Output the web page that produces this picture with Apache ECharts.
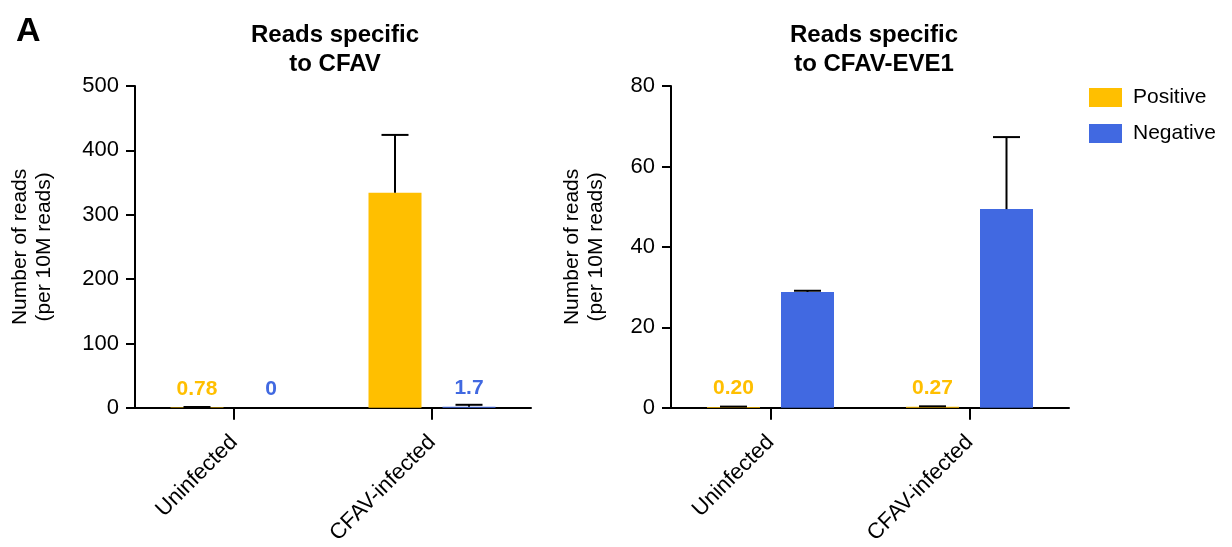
<!DOCTYPE html>
<html>
<head>
<meta charset="utf-8">
<script src="https://cdn.jsdelivr.net/npm/echarts@6/dist/echarts.min.js"></script>
<style>
html,body{margin:0;padding:0;background:#fff;}
#chart{width:1232px;height:547px;}
</style>
</head>
<body>
<div id="chart"></div>
<script>
const categories = ['Uninfected', 'CFAV-infected'];
const seriesNames = ['Positive', 'Negative'];

const cfavPositive = [0.78, 334];
const cfavPositiveErr = [0.5, 90];
const cfavPositiveLabels = ['0.78', ''];
const cfavNegative = [0, 1.7];
const cfavNegativeErr = [0, 3];
const cfavNegativeLabels = ['0', '1.7'];

const evePositive = [0.20, 0.27];
const evePositiveErr = [0.1, 0.1];
const evePositiveLabels = ['0.20', '0.27'];
const eveNegative = [28.8, 49.4];
const eveNegativeErr = [0.3, 17.9];
const eveNegativeLabels = ['', ''];

const cfavTicks = {min: 0, max: 500, interval: 100};
const eveTicks = {min: 0, max: 80, interval: 20};

const YELLOW = '#FFBF00';
const BLUE = '#4169E1';
const FONT = '"Liberation Sans", Arial, Helvetica, sans-serif';
const BAR_W = 53;
const BAR_GAP_PX = 21;
const OFFSET = (BAR_W + BAR_GAP_PX) / 2;

const chart = echarts.init(document.getElementById('chart'), null, {renderer: 'canvas'});

function barData(values, labels, color) {
  return values.map((v, i) => ({
    value: v,
    label: {
      show: labels[i] !== '',
      formatter: labels[i],
      position: 'top',
      distance: 8,
      color: color,
      fontSize: 21,
      fontWeight: 'bold',
      fontFamily: FONT
    }
  }));
}

function errData(values, errs) {
  return values.map((v, i) => [i, v, errs[i]]);
}

function errSeries(values, errs, offset, xi, yi) {
  return {
    type: 'custom',
    xAxisIndex: xi,
    yAxisIndex: yi,
    z: 10,
    silent: true,
    data: errData(values, errs),
    renderItem: function (params, api) {
      const x = api.value(0), y = api.value(1), e = api.value(2);
      if (!e) return null;
      const base = api.coord([x, y]);
      const top = api.coord([x, y + e]);
      const cx = base[0] + offset;
      const capW = 27;
      return {
        type: 'group',
        children: [
          {type: 'line', shape: {x1: cx, y1: base[1], x2: cx, y2: top[1]}, style: {stroke: '#000', lineWidth: 2}},
          {type: 'line', shape: {x1: cx - capW / 2, y1: top[1], x2: cx + capW / 2, y2: top[1]}, style: {stroke: '#000', lineWidth: 2}}
        ]
      };
    }
  };
}

function xAxis(gi) {
  return {
    type: 'category',
    gridIndex: gi,
    data: categories,
    axisLine: {lineStyle: {color: '#000', width: 2}},
    axisTick: {show: true, alignWithLabel: true, length: 12, lineStyle: {color: '#000', width: 2}},
    axisLabel: {rotate: 45, fontSize: 22, color: '#000', fontFamily: FONT, margin: 31}
  };
}

function yAxis(gi, ticks, gap) {
  return {
    type: 'value',
    gridIndex: gi,
    min: ticks.min, max: ticks.max, interval: ticks.interval,
    name: 'Number of reads\n(per 10M reads)',
    nameLocation: 'middle',
    nameRotate: 90,
    nameGap: gap,
    nameTextStyle: {fontSize: 21, color: '#000', fontFamily: FONT, lineHeight: 24},
    axisLine: {show: true, lineStyle: {color: '#000', width: 2}},
    axisTick: {show: true, length: 9, lineStyle: {color: '#000', width: 2}},
    axisLabel: {fontSize: 22, color: '#000', fontFamily: FONT, margin: 16},
    splitLine: {show: false}
  };
}

const option = {
  backgroundColor: '#fff',
  animation: false,
  title: [
    {text: 'A', left: 11, top: 10, textStyle: {fontSize: 34, fontWeight: 'bold', color: '#000', fontFamily: FONT}},
    {text: 'Reads specific\nto CFAV', left: 330, top: 16, textAlign: 'center',
     textStyle: {fontSize: 24, fontWeight: 'bold', color: '#000', fontFamily: FONT, lineHeight: 29}},
    {text: 'Reads specific\nto CFAV-EVE1', left: 869, top: 16, textAlign: 'center',
     textStyle: {fontSize: 24, fontWeight: 'bold', color: '#000', fontFamily: FONT, lineHeight: 29}}
  ],
  legend: {
    data: seriesNames,
    orient: 'vertical',
    left: 1089, top: 87,
    padding: 0,
    itemWidth: 33, itemHeight: 19, itemGap: 15,
    icon: 'rect',
    textStyle: {fontSize: 21, color: '#000', fontFamily: FONT, padding: [0, 0, 0, 6]}
  },
  grid: [
    {left: 135, width: 396, top: 86, height: 323},
    {left: 671, width: 398, top: 86, height: 322}
  ],
  xAxis: [xAxis(0), xAxis(1)],
  yAxis: [yAxis(0, cfavTicks, 79), yAxis(1, eveTicks, 63)],
  series: [
    {name: 'Positive', type: 'bar', xAxisIndex: 0, yAxisIndex: 0, barWidth: BAR_W, barGap: (BAR_GAP_PX / BAR_W * 100) + '%',
     itemStyle: {color: YELLOW}, data: barData(cfavPositive, cfavPositiveLabels, YELLOW)},
    {name: 'Negative', type: 'bar', xAxisIndex: 0, yAxisIndex: 0, barWidth: BAR_W, barGap: (BAR_GAP_PX / BAR_W * 100) + '%',
     itemStyle: {color: BLUE}, data: barData(cfavNegative, cfavNegativeLabels, BLUE)},
    {name: 'Positive', type: 'bar', xAxisIndex: 1, yAxisIndex: 1, barWidth: BAR_W, barGap: (BAR_GAP_PX / BAR_W * 100) + '%',
     itemStyle: {color: YELLOW}, data: barData(evePositive, evePositiveLabels, YELLOW)},
    {name: 'Negative', type: 'bar', xAxisIndex: 1, yAxisIndex: 1, barWidth: BAR_W, barGap: (BAR_GAP_PX / BAR_W * 100) + '%',
     itemStyle: {color: BLUE}, data: barData(eveNegative, eveNegativeLabels, BLUE)},
    errSeries(cfavPositive, cfavPositiveErr, -OFFSET, 0, 0),
    errSeries(cfavNegative, cfavNegativeErr, OFFSET, 0, 0),
    errSeries(evePositive, evePositiveErr, -OFFSET, 1, 1),
    errSeries(eveNegative, eveNegativeErr, OFFSET, 1, 1)
  ]
};
chart.setOption(option);
</script>
</body>
</html>
